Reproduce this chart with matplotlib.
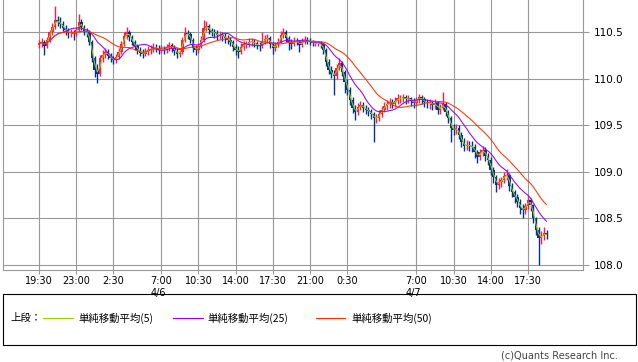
import numpy as np
import pandas as pd
import matplotlib
matplotlib.use("Agg")
import matplotlib.pyplot as plt
import matplotlib.dates as mdates
from matplotlib.patches import Rectangle
from matplotlib.lines import Line2D

# 15分足 (2017/4/5 19:30 - 4/7 19:15)
first_open = 110.36
close = [
    110.38, 110.40, 110.35, 110.42, 110.50, 110.56, 110.63, 110.61, 110.59, 110.55,
    110.52, 110.49, 110.50, 110.48, 110.52, 110.61, 110.56, 110.51, 110.50, 110.40,
    110.22, 110.10, 110.05, 110.22, 110.26, 110.29, 110.25, 110.22, 110.20, 110.23,
    110.29, 110.37, 110.46, 110.50, 110.45, 110.40, 110.35, 110.31, 110.28, 110.27,
    110.29, 110.31, 110.32, 110.34, 110.33, 110.31, 110.32, 110.31, 110.33, 110.36,
    110.33, 110.30, 110.27, 110.29, 110.42, 110.49, 110.48, 110.42, 110.33, 110.31,
    110.35, 110.42, 110.55, 110.57, 110.52, 110.50, 110.49, 110.47, 110.47, 110.46,
    110.44, 110.42, 110.40, 110.34, 110.31, 110.29, 110.34, 110.37, 110.37, 110.40,
    110.40, 110.38, 110.36, 110.35, 110.40, 110.43, 110.44, 110.37, 110.33, 110.36,
    110.40, 110.47, 110.50, 110.44, 110.40, 110.37, 110.41, 110.40, 110.36, 110.40,
    110.42, 110.41, 110.40, 110.38, 110.38, 110.38, 110.37, 110.31, 110.18, 110.10,
    110.05, 110.03, 110.12, 110.17, 110.07, 109.97, 109.88, 109.77, 109.69, 109.64,
    109.70, 109.72, 109.69, 109.67, 109.65, 109.62, 109.58, 109.58, 109.62, 109.67,
    109.71, 109.73, 109.75, 109.73, 109.76, 109.79, 109.79, 109.80, 109.78, 109.79,
    109.76, 109.74, 109.77, 109.80, 109.78, 109.75, 109.74, 109.74, 109.72, 109.74,
    109.67, 109.69, 109.73, 109.64, 109.58, 109.47, 109.45, 109.47, 109.40, 109.32,
    109.28, 109.29, 109.28, 109.27, 109.21, 109.16, 109.21, 109.24, 109.17, 109.13,
    109.02, 108.94, 108.86, 108.89, 108.91, 108.96, 108.97, 108.85, 108.78, 108.73,
    108.68, 108.61, 108.59, 108.63, 108.70, 108.64, 108.50, 108.38, 108.29, 108.31,
    108.34, 108.32,
]
high = [
    110.42, 110.44, 110.42, 110.45, 110.53, 110.60, 110.78, 110.68, 110.66, 110.62,
    110.58, 110.55, 110.54, 110.53, 110.56, 110.70, 110.64, 110.58, 110.55, 110.52,
    110.42, 110.25, 110.16, 110.26, 110.31, 110.33, 110.32, 110.28, 110.25, 110.27,
    110.33, 110.41, 110.50, 110.56, 110.52, 110.47, 110.42, 110.37, 110.34, 110.32,
    110.33, 110.35, 110.36, 110.38, 110.37, 110.36, 110.36, 110.35, 110.37, 110.40,
    110.39, 110.36, 110.33, 110.33, 110.45, 110.56, 110.53, 110.50, 110.44, 110.36,
    110.39, 110.46, 110.63, 110.62, 110.59, 110.55, 110.54, 110.52, 110.51, 110.50,
    110.49, 110.47, 110.45, 110.42, 110.37, 110.35, 110.38, 110.41, 110.41, 110.44,
    110.44, 110.43, 110.41, 110.40, 110.50, 110.47, 110.48, 110.46, 110.40, 110.40,
    110.44, 110.51, 110.55, 110.52, 110.46, 110.43, 110.45, 110.44, 110.42, 110.44,
    110.46, 110.45, 110.44, 110.42, 110.41, 110.41, 110.41, 110.39, 110.33, 110.21,
    110.14, 110.09, 110.16, 110.22, 110.19, 110.10, 110.00, 109.91, 109.81, 109.72,
    109.74, 109.76, 109.75, 109.72, 109.70, 109.68, 109.64, 109.62, 109.66, 109.71,
    109.75, 109.77, 109.79, 109.78, 109.80, 109.84, 109.83, 109.84, 109.83, 109.83,
    109.81, 109.79, 109.81, 109.84, 109.83, 109.80, 109.78, 109.78, 109.77, 109.78,
    109.76, 109.73, 109.86, 109.75, 109.67, 109.60, 109.51, 109.52, 109.50, 109.43,
    109.36, 109.34, 109.33, 109.33, 109.30, 109.24, 109.25, 109.28, 109.27, 109.20,
    109.16, 109.05, 108.97, 108.93, 108.95, 109.00, 109.03, 108.99, 108.88, 108.81,
    108.76, 108.71, 108.65, 108.67, 108.74, 108.72, 108.66, 108.52, 108.41, 108.36,
    108.41, 108.38,
]
low = [
    110.33, 110.34, 110.26, 110.33, 110.40, 110.47, 110.54, 110.57, 110.55, 110.51,
    110.47, 110.44, 110.45, 110.42, 110.46, 110.50, 110.53, 110.47, 110.45, 110.36,
    110.18, 110.02, 109.96, 110.03, 110.18, 110.22, 110.21, 110.18, 110.16, 110.17,
    110.21, 110.27, 110.35, 110.43, 110.41, 110.36, 110.31, 110.27, 110.24, 110.22,
    110.24, 110.26, 110.27, 110.29, 110.29, 110.27, 110.28, 110.27, 110.28, 110.30,
    110.29, 110.26, 110.22, 110.23, 110.27, 110.40, 110.43, 110.38, 110.29, 110.26,
    110.28, 110.33, 110.40, 110.51, 110.48, 110.46, 110.44, 110.42, 110.43, 110.41,
    110.39, 110.37, 110.35, 110.30, 110.26, 110.22, 110.27, 110.31, 110.33, 110.34,
    110.35, 110.34, 110.32, 110.30, 110.33, 110.37, 110.39, 110.33, 110.27, 110.30,
    110.34, 110.38, 110.44, 110.40, 110.31, 110.32, 110.35, 110.36, 110.29, 110.34,
    110.37, 110.37, 110.36, 110.35, 110.35, 110.35, 110.33, 110.27, 110.14, 110.05,
    110.01, 109.83, 110.00, 110.09, 110.03, 109.85, 109.83, 109.72, 109.63, 109.56,
    109.61, 109.66, 109.64, 109.62, 109.60, 109.57, 109.32, 109.53, 109.55, 109.59,
    109.64, 109.67, 109.69, 109.69, 109.70, 109.73, 109.74, 109.75, 109.73, 109.74,
    109.71, 109.69, 109.71, 109.74, 109.73, 109.70, 109.69, 109.68, 109.66, 109.68,
    109.62, 109.62, 109.66, 109.60, 109.53, 109.32, 109.40, 109.41, 109.35, 109.27,
    109.22, 109.23, 109.22, 109.21, 109.15, 109.10, 109.13, 109.17, 109.12, 109.07,
    108.97, 108.88, 108.78, 108.82, 108.84, 108.88, 108.91, 108.80, 108.73, 108.67,
    108.62, 108.55, 108.51, 108.55, 108.60, 108.58, 108.45, 108.32, 108.00, 108.22,
    108.27, 108.28,
]

ma_labels = ["単純移動平均(5)", "単純移動平均(25)", "単純移動平均(50)"]
ma_windows = [2, 10, 20]          # 15分足での換算本数
ma_colors = ["#99cc00", "#9900ff", "#ff3300"]

tick_times = ["2017-04-05 19:30", "2017-04-05 23:00", "2017-04-06 02:30",
              "2017-04-06 07:00", "2017-04-06 10:30", "2017-04-06 14:00",
              "2017-04-06 17:30", "2017-04-06 21:00", "2017-04-07 00:30",
              "2017-04-07 07:00", "2017-04-07 10:30", "2017-04-07 14:00",
              "2017-04-07 17:30"]
tick_labels = ["19:30", "23:00", "2:30", "7:00\n4/6", "10:30", "14:00", "17:30",
               "21:00", "0:30", "7:00\n4/7", "10:30", "14:00", "17:30"]
y_ticks = [108.0, 108.5, 109.0, 109.5, 110.0, 110.5]

df = pd.DataFrame({"close": close, "high": high, "low": low},
                  index=pd.date_range("2017-04-05 19:30", periods=len(close), freq="15min"))
df["open"] = df["close"].shift(1).fillna(first_open)

plt.rcParams['font.family'] = ['DejaVu Sans']
cjk = ['Noto Sans CJK JP', 'DejaVu Sans']

fig = plt.figure(figsize=(6.38, 3.62), dpi=100)
ax = fig.add_axes([3 / 638, 92 / 362, 580 / 638, 270 / 362])

x = mdates.date2num(df.index.to_pydatetime())
up = df["close"].values >= df["open"].values
col = np.where(up, "#ff1a4d", "#003399")
ax.vlines(x, df["low"], df["high"], colors=col, linewidth=1.0, zorder=3)
ax.bar(x, df["close"] - df["open"], bottom=df["open"], width=0.24 / 24,
       color=col, linewidth=0, zorder=3)

for w, c in zip(ma_windows, ma_colors):
    ma = df["close"].rolling(w, min_periods=1).mean()
    ax.plot(x, ma, color=c, linewidth=0.75, zorder=4)

ax.set_xlim(mdates.datestr2num("2017-04-05 16:07"), mdates.datestr2num("2017-04-07 22:41"))
ax.set_ylim(107.946, 110.847)
ax.set_xticks(mdates.datestr2num(tick_times))
ax.set_xticklabels(tick_labels, fontsize=7, linespacing=1.35)
for lab in ax.get_xticklabels():
    lab.set_multialignment('left')
ax.set_yticks(y_ticks)
ax.set_yticklabels([f"{v:.1f}" for v in y_ticks], fontsize=7.5)
ax.yaxis.tick_right()
ax.tick_params(axis='x', length=3, pad=1, color='#999999')
ax.tick_params(axis='y', length=4, pad=4, color='#999999')
ax.grid(True, color='#999999', linewidth=0.8)
ax.set_axisbelow(True)
for s in ['left', 'right', 'bottom']:
    ax.spines[s].set_color('#999999')
    ax.spines[s].set_linewidth(0.8)
ax.spines['top'].set_visible(False)

# 凡例ボックス
W, H = 638, 362
fig.patches.append(Rectangle((3 / W, 1 - 345 / H), 633 / W, 51 / H, transform=fig.transFigure,
                             fill=False, edgecolor='black', linewidth=0.8))
ly = 1 - 318 / H
fig.text(10 / W, ly, "上段：", family=cjk, fontsize=7.5, va='center')
seg_x = [(43, 73), (173, 203), (316, 345)]
txt_x = [78, 207, 351]
for (a, b), tx, c, lab in zip(seg_x, txt_x, ma_colors, ma_labels):
    fig.lines.append(Line2D([a / W, b / W], [ly, ly], transform=fig.transFigure,
                            color=c, linewidth=0.8))
    fig.text(tx / W, ly, lab, family=cjk, fontsize=7.5, va='center')

fig.text(618 / W, 1 - 356 / H, "(c)Quants Research Inc.", fontsize=7, color='#444444',
         ha='right', va='center')

fig.savefig("out.png", dpi=100)
